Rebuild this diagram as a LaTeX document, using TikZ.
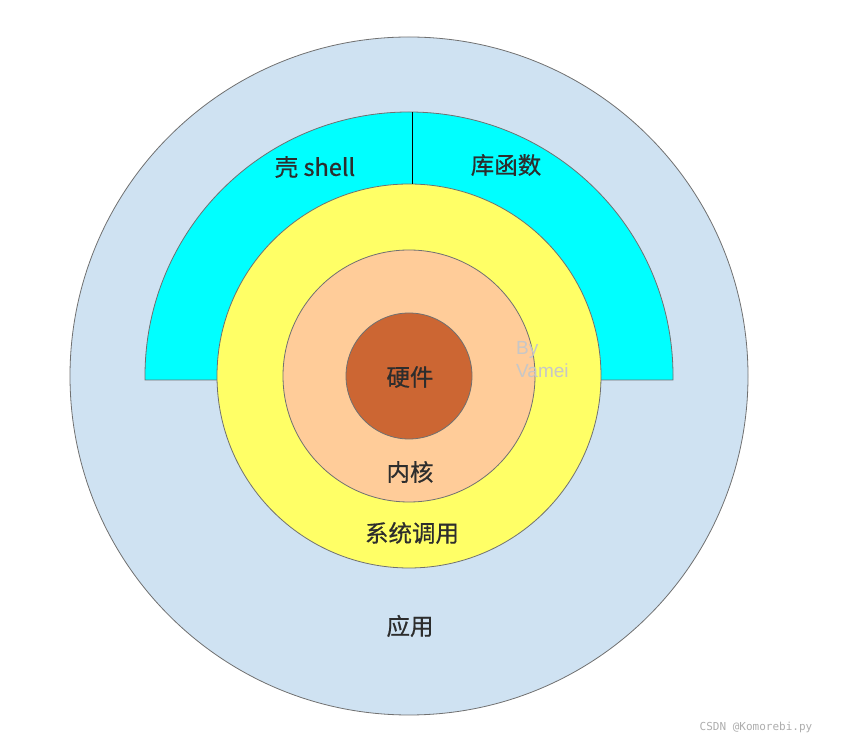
\documentclass[tikz,border=0pt]{standalone}
\usepackage{fontspec}
\usetikzlibrary{positioning}
\newfontfamily\cjkfont[FakeBold=0.6]{Noto Sans CJK SC}
\newfontfamily\latinfont{Liberation Sans}
\newfontfamily\wmfont{DejaVu Sans Mono}
\definecolor{appblue}{RGB}{207,226,242}
\definecolor{shellcyan}{RGB}{0,255,255}
\definecolor{sysyellow}{RGB}{255,255,102}
\definecolor{kernelpeach}{RGB}{255,204,153}
\definecolor{hwbrown}{RGB}{204,102,51}
\definecolor{edgegray}{RGB}{112,112,112}
\definecolor{textdark}{RGB}{45,45,45}
\tikzset{
  ring/.style  ={circle, draw=edgegray, line width=0.8pt, inner sep=0pt},
  lbl/.style   ={font=\cjkfont\fontsize{23.5}{28}\selectfont, text=textdark, inner sep=0pt},
  signlbl/.style={font=\latinfont\fontsize{19}{23}\selectfont, text=black!22, align=left, inner sep=0pt},
  wmlbl/.style ={font=\wmfont\fontsize{11}{13}\selectfont, text=black!32, inner sep=0pt}
}
\begin{document}
\begin{tikzpicture}[x=1pt,y=1pt]
\useasboundingbox (0,0) rectangle (845,741);
\coordinate (c) at (409,365);
% outer ring
\node[ring, fill=appblue, minimum size=678pt] (app) at (c) {};
% shell / library half ring
\draw[draw=edgegray, line width=0.8pt, fill=shellcyan]
  (145,361) -- (145,365) arc[start angle=180, end angle=0, radius=264] -- (673,361) -- cycle;
\coordinate (divtop) at (412,629);
% inner rings
\node[ring, fill=sysyellow, minimum size=384pt] (sys) at (c) {};
\node[ring, fill=kernelpeach, minimum size=252pt] (kernel) at (c) {};
\node[ring, fill=hwbrown, minimum size=126pt] (hw) at (c) {};
\draw[line width=0.8pt] (divtop) -- (divtop |- sys.north);
% labels
\node[lbl] (shell) at (315,574) {壳 shell};
\node[lbl] (lib) at (506,576) {库函数};
\node[lbl] (hwlbl) at (410,364) {硬件};
\node[lbl] (kerlbl) at (410,269) {内核};
\node[lbl] (syslbl) at (412,208) {系统调用};
\node[lbl] (applbl) at (410,115) {应用};
\node[signlbl, anchor=west] (sign) at (516,381) {By\\Vamei};
\node[wmlbl] (wm) at (756,14) {CSDN @Komorebi.py};
\end{tikzpicture}
\end{document}
